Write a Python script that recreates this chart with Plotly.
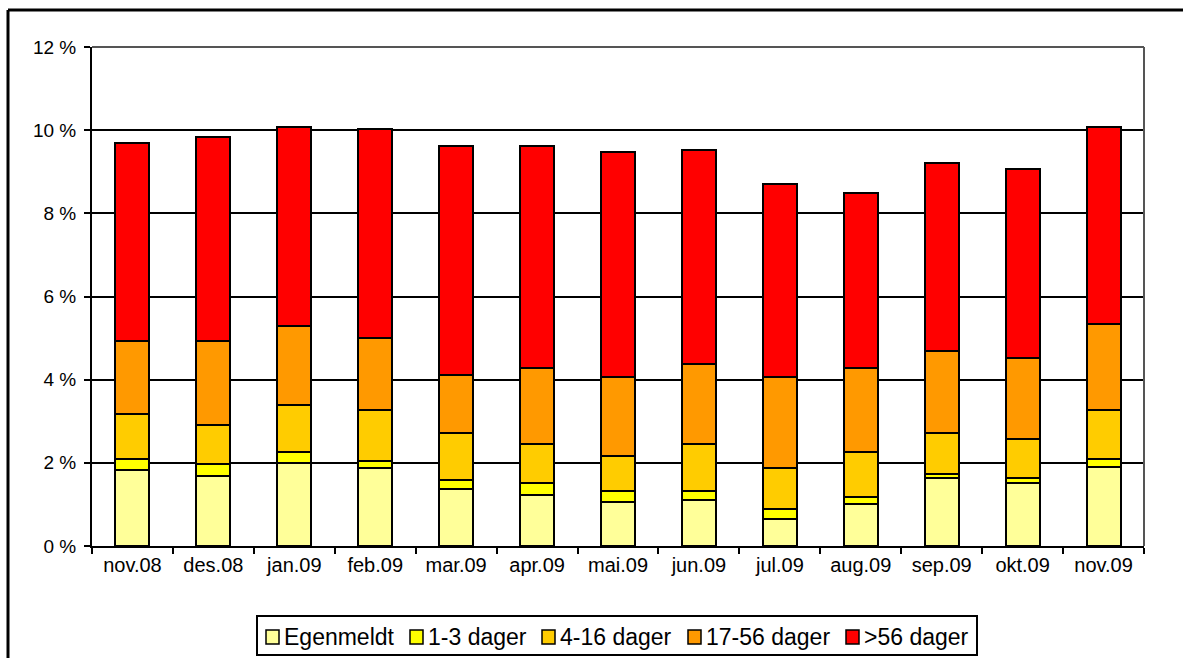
import plotly.graph_objects as go

# Monthly sickness absence (percent), split by duration of absence
months = ["nov.08", "des.08", "jan.09", "feb.09", "mar.09", "apr.09", "mai.09",
          "jun.09", "jul.09", "aug.09", "sep.09", "okt.09", "nov.09"]

egenmeldt = [1.83, 1.68, 1.99, 1.87, 1.37, 1.22, 1.05, 1.10, 0.64, 1.01, 1.64, 1.51, 1.91]
dager_1_3 = [0.26, 0.29, 0.28, 0.18, 0.22, 0.29, 0.28, 0.23, 0.25, 0.17, 0.09, 0.13, 0.18]
dager_4_16 = [1.08, 0.95, 1.13, 1.21, 1.12, 0.95, 0.84, 1.13, 0.98, 1.08, 0.98, 0.94, 1.17]
dager_17_56 = [1.76, 2.01, 1.89, 1.75, 1.40, 1.82, 1.90, 1.92, 2.20, 2.02, 1.99, 1.94, 2.07]
dager_over_56 = [4.77, 4.91, 4.78, 5.01, 5.50, 5.33, 5.41, 5.14, 4.64, 4.22, 4.52, 4.55, 4.75]

series_names = ["Egenmeldt", "1-3 dager", "4-16 dager", "17-56 dager", ">56 dager"]
series_values = [egenmeldt, dager_1_3, dager_4_16, dager_17_56, dager_over_56]
series_colors = ["#FFFF99", "#FFFF00", "#FFCC00", "#FF9900", "#FF0000"]

y_ticks = [0, 2, 4, 6, 8, 10, 12]
y_tick_labels = ["0 %", "2 %", "4 %", "6 %", "8 %", "10 %", "12 %"]

FONT = "Liberation Sans, Arial, sans-serif"

fig = go.Figure()
for name, vals, col in zip(series_names, series_values, series_colors):
    fig.add_trace(go.Bar(
        x=months, y=vals, name=name, showlegend=False,
        marker=dict(color=col, line=dict(color="#000000", width=2)),
    ))

W, H = 1183, 658
L, R, T, B = 92, 39, 47, 112
pw, ph = W - L - R, H - T - B


def px(x):
    return (x - L) / pw


def py(y):
    return (H - B - y) / ph


shapes = [
    # outer chart frame (top and left edges)
    dict(type="line", xref="paper", yref="paper", x0=px(8), x1=px(W + 5),
         y0=py(10), y1=py(10), line=dict(color="#000000", width=3)),
    dict(type="line", xref="paper", yref="paper", x0=px(8), x1=px(8),
         y0=py(10), y1=py(H + 5), line=dict(color="#000000", width=3)),
    # plot area border (top and right)
    dict(type="line", xref="paper", yref="paper", x0=0, x1=1, y0=1, y1=1,
         line=dict(color="#555555", width=2)),
    dict(type="line", xref="paper", yref="paper", x0=1, x1=1, y0=0, y1=1,
         line=dict(color="#555555", width=2)),
    # legend frame
    dict(type="rect", xref="paper", yref="paper", x0=px(257), x1=px(977),
         y0=py(616), y1=py(655), line=dict(color="#000000", width=2),
         fillcolor="#FFFFFF"),
]

annotations = []
# legend entries: swatch followed by the series name
legend_swatch_x = [266, 410, 542, 688, 846]
for sx, name, col in zip(legend_swatch_x, series_names, series_colors):
    shapes.append(dict(type="rect", xref="paper", yref="paper",
                       x0=px(sx), x1=px(sx + 13), y0=py(630), y1=py(644),
                       line=dict(color="#000000", width=1.5), fillcolor=col))
    annotations.append(dict(xref="paper", yref="paper", x=px(sx + 16), y=py(637),
                            xanchor="left", yanchor="middle", showarrow=False,
                            text=name, font=dict(family=FONT, size=23, color="#000000")))

fig.update_layout(
    width=W, height=H,
    margin=dict(l=L, r=R, t=T, b=B, pad=0),
    paper_bgcolor="#FFFFFF", plot_bgcolor="#FFFFFF",
    barmode="stack", bargap=0.58,
    font=dict(family=FONT, color="#000000", size=19),
    showlegend=False,
    shapes=shapes,
    annotations=annotations,
    xaxis=dict(
        type="category", tickson="boundaries", ticks="outside", ticklen=6,
        tickwidth=1.5, tickcolor="#000000", showline=True, linecolor="#000000",
        linewidth=2, showgrid=False, tickfont=dict(size=20), fixedrange=True,
    ),
    yaxis=dict(
        range=[0, 12], tickvals=y_ticks, ticktext=y_tick_labels,
        ticks="outside", ticklen=6, tickwidth=1.5, tickcolor="#000000",
        ticklabelstandoff=4,
        showline=True, linecolor="#000000", linewidth=2,
        showgrid=True, gridcolor="#000000", gridwidth=1.5,
        zeroline=False, tickfont=dict(size=19), fixedrange=True,
    ),
)

fig.write_html("out.html")
